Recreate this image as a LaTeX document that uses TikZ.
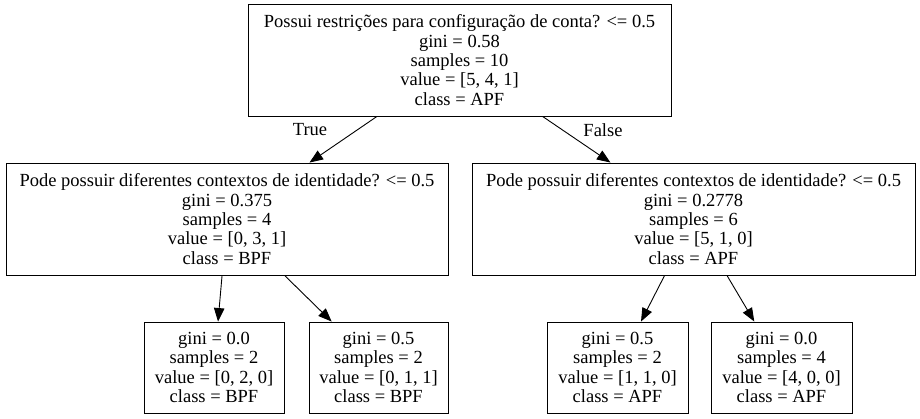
\documentclass[tikz,border=0pt]{standalone}
\usepackage{fontspec}
\setmainfont{Liberation Serif}
\usetikzlibrary{arrows.meta}
\begin{document}
\begin{tikzpicture}
[x=1pt,y=-1pt,
  nodedecorate/.style={shape=rectangle,draw,line width=0.9pt,inner sep=0pt,align=center,%
    font=\fontsize{18.5}{19.4}\selectfont},
  labeldecorate/.style={font=\fontsize{18.5}{19.4}\selectfont,inner sep=0pt},
  linedecorate/.style={-{Triangle[length=13.5pt,width=10.5pt]},line width=0.9pt}]
\useasboundingbox (0,0) rectangle (920,419);
%% nodes or vertices
\foreach \nodename/\x/\y/\w/\h/\txt in {%
  root/459.5/60/423/112/{Possui restrições para configuração de conta? <= 0.5\\gini = 0.58\\samples = 10\\value = [5, 4, 1]\\class = APF},
  pode1/227/219/442/112/{Pode possuir diferentes contextos de identidade? <= 0.5\\gini = 0.375\\samples = 4\\value = [0, 3, 1]\\class = BPF},
  pode2/693.5/219/443/112/{Pode possuir diferentes contextos de identidade? <= 0.5\\gini = 0.2778\\samples = 6\\value = [5, 1, 0]\\class = APF},
  leaf1/214/367.5/140/91/{gini = 0.0\\samples = 2\\value = [0, 2, 0]\\class = BPF},
  leaf2/378.5/367.5/139/91/{gini = 0.5\\samples = 2\\value = [0, 1, 1]\\class = BPF},
  leaf3/617.5/367.5/141/91/{gini = 0.5\\samples = 2\\value = [1, 1, 0]\\class = APF},
  leaf4/781.5/367.5/141/91/{gini = 0.0\\samples = 4\\value = [4, 0, 0]\\class = APF}} {
  \node (\nodename) at (\x,\y) [nodedecorate,minimum width=\w pt,minimum height=\h pt] {\txt};
}
%% edge labels
\node (true) at (310,130) [labeldecorate] {True};
\node (false) at (603,130) [labeldecorate] {False};
%% edges or lines
\path
\foreach \startnode/\endnode in {root/pode1, root/pode2, pode1/leaf1, pode1/leaf2, pode2/leaf3, pode2/leaf4} {
  (\startnode) edge[linedecorate] (\endnode)
};
\end{tikzpicture}
\end{document}
